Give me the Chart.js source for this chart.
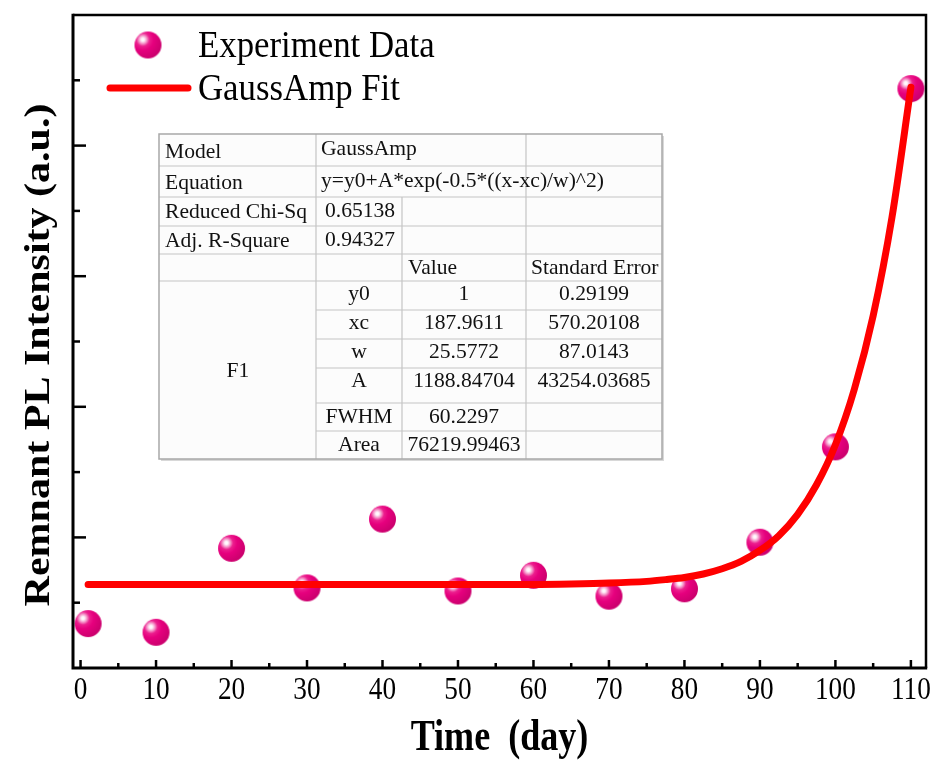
<!DOCTYPE html>
<html><head><meta charset="utf-8">
<script src="https://cdn.jsdelivr.net/npm/chart.js@4.4.1/dist/chart.umd.min.js"></script>
<style>html,body{margin:0;padding:0;background:#fff;}canvas{display:block;}</style>
</head><body>
<canvas id="c" width="941" height="760"></canvas>
<script>
// ---- data ----
const days = [1, 10, 20, 30, 40, 50, 60, 70, 80, 90, 100, 110];
const intensity = [0.10, -0.10, 1.83, 0.92, 2.50, 0.85, 1.21, 0.73, 0.90, 1.97, 4.16, 12.39];
const fitDays = [1, 10, 20, 30, 40, 50, 60, 65, 70, 75, 77.5, 80, 82.5, 85, 87.5, 90, 92.5, 95, 97.5, 100, 102.5, 105, 107.5, 110];
const fitValues = [1, 1, 1, 1, 1, 1, 1, 1.01, 1.03, 1.07, 1.11, 1.16, 1.24, 1.36, 1.53, 1.78, 2.12, 2.61, 3.29, 4.21, 5.48, 7.17, 9.44, 12.42];
const xTickValues = [0, 10, 20, 30, 40, 50, 60, 70, 80, 90, 100, 110];
const xTickLabels = ['0', '10', '20', '30', '40', '50', '60', '70', '80', '90', '100', '110'];
const xMinorTicks = [5, 15, 25, 35, 45, 55, 65, 75, 85, 95, 105];
const yMajorTicks = [-0.92, 2.08, 5.08, 8.08, 11.08, 14.08];
const yMinorTicks = [0.58, 3.58, 6.58, 9.58, 12.58];
const seriesNames = ['Experiment Data', 'GaussAmp Fit'];
const xTitle = 'Time  (day)';
const yTitle = 'Remnant PL Intensity (a.u.)';
const tableLabels = ['Model', 'Equation', 'Reduced Chi-Sq', 'Adj. R-Square'];
const tableInfo = ['GaussAmp', 'y=y0+A*exp(-0.5*((x-xc)/w)^2)', '0.65138', '0.94327'];
const tableHeader = ['Value', 'Standard Error'];
const paramGroup = 'F1';
const paramNames = ['y0', 'xc', 'w', 'A', 'FWHM', 'Area'];
const paramValues = ['1', '187.9611', '25.5772', '1188.84704', '60.2297', '76219.99463'];
const paramErrors = ['0.29199', '570.20108', '87.0143', '43254.03685', '', ''];

// ---- marker sprite ----
function makeBall(r) {
  const d = Math.ceil(r * 2 + 2);
  const c = document.createElement('canvas');
  c.width = d; c.height = d;
  const g = c.getContext('2d');
  const cx = d / 2, cy = d / 2;
  const hx = cx - r * 0.38, hy = cy - r * 0.4;
  const grad = g.createRadialGradient(hx, hy, 0, hx, hy, r * 1.45);
  grad.addColorStop(0, '#ffffff');
  grad.addColorStop(0.08, '#fff4fa');
  grad.addColorStop(0.2, '#f59acb');
  grad.addColorStop(0.34, '#ec1f8e');
  grad.addColorStop(0.55, '#e6007e');
  grad.addColorStop(1, '#cc006e');
  g.fillStyle = grad;
  g.beginPath(); g.arc(cx, cy, r, 0, Math.PI * 2); g.fill();
  return c;
}
const ball = makeBall(13.5);

function sText(ctx, txt, x, y, font, sx, align) {
  ctx.save();
  ctx.font = font;
  ctx.translate(x, y);
  ctx.scale(sx, 1);
  ctx.textAlign = align || 'left';
  ctx.textBaseline = 'alphabetic';
  ctx.fillText(txt, 0, 0);
  ctx.restore();
}

const decor = {
  id: 'decor',
  afterDatasetsDraw(chart) {
    const ctx = chart.ctx, a = chart.chartArea;
    const xs = chart.scales.x, ys = chart.scales.y;
    ctx.save();
    ctx.strokeStyle = '#000';
    ctx.fillStyle = '#000';
    ctx.lineCap = 'butt';
    // frame
    ctx.lineWidth = 2.5;
    ctx.beginPath();
    ctx.moveTo(a.left, a.top); ctx.lineTo(a.right, a.top); ctx.lineTo(a.right, a.bottom);
    ctx.stroke();
    ctx.lineWidth = 3;
    ctx.beginPath();
    ctx.moveTo(a.left, a.top - 1.2); ctx.lineTo(a.left, a.bottom); ctx.lineTo(a.right + 1.2, a.bottom);
    ctx.stroke();
    // x ticks
    ctx.lineWidth = 2.5;
    xTickValues.forEach(v => {
      const px = xs.getPixelForValue(v);
      ctx.beginPath(); ctx.moveTo(px, a.bottom); ctx.lineTo(px, a.bottom - 8); ctx.stroke();
    });
    xMinorTicks.forEach(v => {
      const px = xs.getPixelForValue(v);
      ctx.beginPath(); ctx.moveTo(px, a.bottom); ctx.lineTo(px, a.bottom - 5); ctx.stroke();
    });
    // y ticks
    yMajorTicks.forEach(v => {
      const py = ys.getPixelForValue(v);
      if (py < a.top + 2 || py > a.bottom - 2) return;
      ctx.beginPath(); ctx.moveTo(a.left, py); ctx.lineTo(a.left + 13, py); ctx.stroke();
    });
    yMinorTicks.forEach(v => {
      const py = ys.getPixelForValue(v);
      ctx.beginPath(); ctx.moveTo(a.left, py); ctx.lineTo(a.left + 7, py); ctx.stroke();
    });
    // x tick labels
    xTickValues.forEach((v, i) => {
      sText(ctx, xTickLabels[i], xs.getPixelForValue(v), a.bottom + 31, '31px "Liberation Serif"', 0.88, 'center');
    });
    // axis titles
    sText(ctx, xTitle, (a.left + a.right) / 2, 750, 'bold 44px "Liberation Serif"', 0.82, 'center');
    ctx.save();
    ctx.translate(49, 355);
    ctx.rotate(-Math.PI / 2);
    ctx.scale(1, 0.85);
    ctx.font = 'bold 42px "Liberation Serif"';
    ctx.textAlign = 'center';
    ctx.textBaseline = 'alphabetic';
    ctx.fillText(yTitle, 0, 0);
    ctx.restore();
    // legend
    ctx.drawImage(ball, 148 - ball.width / 2, 45 - ball.height / 2);
    sText(ctx, seriesNames[0], 198, 57, '37px "Liberation Serif"', 0.94, 'left');
    ctx.strokeStyle = '#ff0000';
    ctx.lineWidth = 7;
    ctx.lineCap = 'round';
    ctx.beginPath(); ctx.moveTo(110, 88); ctx.lineTo(188, 88); ctx.stroke();
    sText(ctx, seriesNames[1], 198, 100, '37px "Liberation Serif"', 0.94, 'left');
    ctx.restore();
  },
  afterDraw(chart) {
    const ctx = chart.ctx;
    const colX = [159, 316, 402, 526, 662];
    const rowY = [134, 166, 197, 226, 254, 281, 310, 339, 368, 403, 431, 459];
    ctx.save();
    // shadow + background
    ctx.fillStyle = '#d8d8d8';
    ctx.fillRect(colX[0] + 2, rowY[0] + 2, colX[4] - colX[0], rowY[11] - rowY[0]);
    ctx.fillStyle = '#fcfcfc';
    ctx.fillRect(colX[0], rowY[0], colX[4] - colX[0], rowY[11] - rowY[0]);
    ctx.strokeStyle = '#c4c4c4';
    ctx.lineWidth = 1.2;
    const hl = (y, x1, x2) => { ctx.beginPath(); ctx.moveTo(x1, y); ctx.lineTo(x2, y); ctx.stroke(); };
    const vl = (x, y1, y2) => { ctx.beginPath(); ctx.moveTo(x, y1); ctx.lineTo(x, y2); ctx.stroke(); };
    for (let i = 1; i <= 5; i++) hl(rowY[i], colX[0], colX[4]);
    for (let i = 6; i <= 10; i++) hl(rowY[i], colX[1], colX[4]);
    vl(colX[1], rowY[0], rowY[11]);
    vl(colX[3], rowY[0], rowY[11]);
    vl(colX[2], rowY[2], rowY[11]);
    ctx.strokeStyle = '#a8a8a8';
    ctx.lineWidth = 1.5;
    ctx.strokeRect(colX[0], rowY[0], colX[4] - colX[0], rowY[11] - rowY[0]);
    ctx.fillStyle = '#111';
    const f = '22px "Liberation Serif"';
    const base = [158, 189, 218, 247];
    tableLabels.forEach((t, i) => sText(ctx, t, 165, base[i], f, 0.98, 'left'));
    const infoBase = [155, 187, 217, 246];
    tableInfo.forEach((t, i) => sText(ctx, t, i < 2 ? 321 : 325, infoBase[i], f, 0.98, 'left'));
    sText(ctx, tableHeader[0], 408, 274, f, 0.98, 'left');
    sText(ctx, tableHeader[1], 531, 274, f, 0.98, 'left');
    const pBase = [300, 329, 358, 387, 423, 451];
    paramNames.forEach((t, i) => {
      sText(ctx, t, 359, pBase[i], f, 0.98, 'center');
      sText(ctx, paramValues[i], 464, pBase[i], f, 0.98, 'center');
      if (paramErrors[i]) sText(ctx, paramErrors[i], 594, pBase[i], f, 0.98, 'center');
    });
    sText(ctx, paramGroup, 238, 377, f, 0.98, 'center');
    ctx.restore();
  }
};

new Chart(document.getElementById('c'), {
  type: 'scatter',
  data: {
    datasets: [
      {
        type: 'line',
        label: seriesNames[1],
        data: fitDays.map((d, i) => ({ x: d, y: fitValues[i] })),
        borderColor: '#ff0000',
        borderWidth: 7,
        borderCapStyle: 'round',
        borderJoinStyle: 'round',
        pointRadius: 0,
        fill: false,
        cubicInterpolationMode: 'monotone'
      },
      {
        label: seriesNames[0],
        data: days.map((d, i) => ({ x: d, y: intensity[i] })),
        pointStyle: ball,
        pointRadius: 14,
        showLine: false
      }
    ]
  },
  options: {
    responsive: false,
    animation: false,
    events: [],
    layout: { padding: { left: 73, right: 13, top: 12, bottom: 92 } },
    plugins: { legend: { display: false }, tooltip: { enabled: false }, title: { display: false } },
    scales: {
      x: { type: 'linear', min: -1, max: 112, display: false },
      y: { type: 'linear', min: -0.92, max: 14.08, display: false }
    }
  },
  plugins: [decor]
});
</script>
</body></html>
